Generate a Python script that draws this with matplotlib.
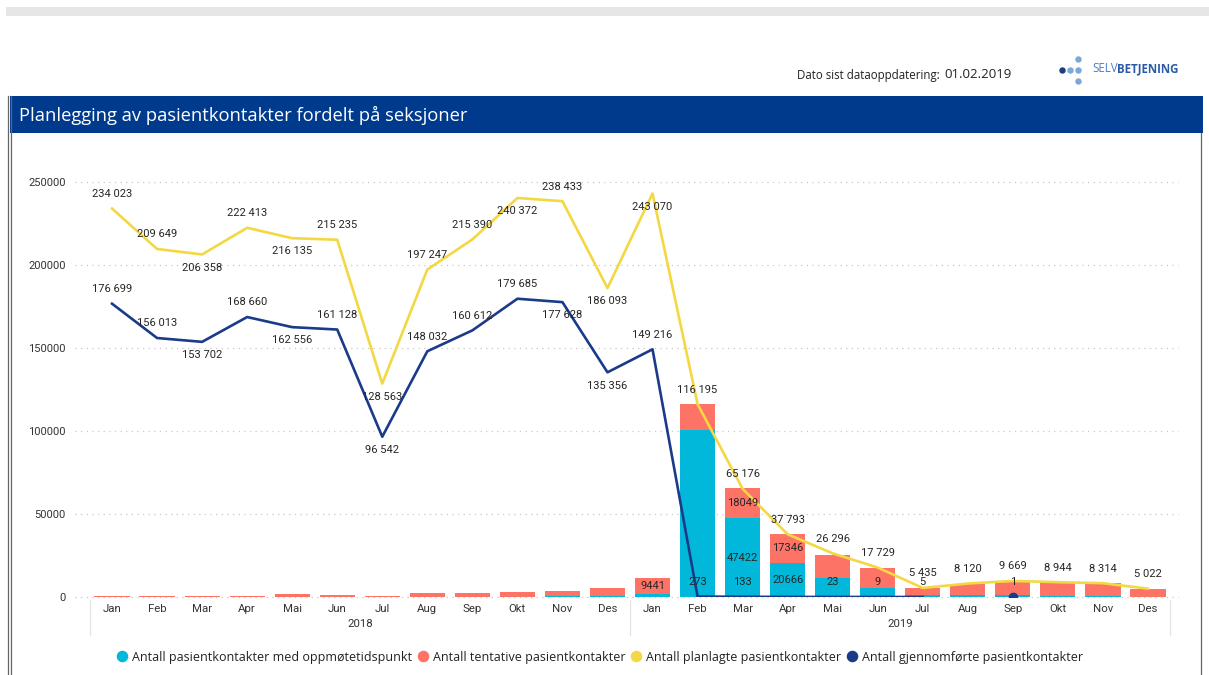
import numpy as np
import matplotlib
matplotlib.use("Agg")
import matplotlib.pyplot as plt
from matplotlib.lines import Line2D
from matplotlib.patches import Rectangle

# ---------------- data ----------------
months = ["Jan", "Feb", "Mar", "Apr", "Mai", "Jun", "Jul", "Aug", "Sep", "Okt", "Nov", "Des"]
years = ["2018", "2019"]

appointment = [0, 0, 0, 0, 0, 0, 0, 0, 0, 300, 600, 700,
               2000, 100500, 47422, 20666, 11400, 5500, 1200, 1000, 1000, 900, 800, 300]
tentative = [600, 600, 600, 600, 1600, 1500, 600, 2400, 2400, 3000, 3200, 4600,
             9441, 15700, 18049, 17346, 13900, 12000, 4200, 6800, 8000, 7600, 7500, 4800]
planned = [234023, 209649, 206358, 222413, 216135, 215235, 128563, 197247, 215390, 240372, 238433, 186093,
           243070, 116195, 65176, 37793, 26296, 17729, 5435, 8120, 9669, 8944, 8314, 5022]
completed = [176699, 156013, 153702, 168660, 162556, 161128, 96542, 148032, 160612, 179685, 177628, 135356,
             149216, 273, 133, 40, 23, 9, 5, np.nan, 1, np.nan, np.nan, np.nan]

series_names = ["Antall pasientkontakter med oppmøtetidspunkt",
                "Antall tentative pasientkontakter",
                "Antall planlagte pasientkontakter",
                "Antall gjennomførte pasientkontakter"]
yticks = [0, 50000, 100000, 150000, 200000, 250000]

title = "Planlegging av pasientkontakter fordelt på seksjoner"
update_label = "Dato sist dataoppdatering:"
update_date = "01.02.2019"

# ---------------- style ----------------
C_CYAN = "#01B8DA"
C_SALMON = "#FD7366"
C_YELLOW = "#F3D843"
C_NAVY = "#1B3A8A"
C_TITLE = "#003A8C"
TXT = "#333333"
NUM_FONT = ["Roboto", "DejaVu Sans"]
UI_FONT = ["Open Sans", "DejaVu Sans"]

W, H = 1209, 675
fig = plt.figure(figsize=(W / 100, H / 100), dpi=100)
fx = lambda x: x / W
fy = lambda y: 1 - y / H

# page decorations
fig.add_artist(Rectangle((fx(6), fy(16)), fx(1209) - fx(6), 9 / H, transform=fig.transFigure,
                         color="#E6E6E6", lw=0))
fig.add_artist(Rectangle((fx(10), fy(133)), fx(1203) - fx(10), 37 / H, transform=fig.transFigure,
                         color=C_TITLE, lw=0))
fig.text(fx(19), fy(115), title, color="white", fontsize=13.2, va="center", ha="left", family=UI_FONT)
for xb in (8, 11):
    fig.add_artist(Line2D([fx(xb), fx(xb)], [fy(96), 0], transform=fig.transFigure, color="#666666", lw=0.9))
fig.add_artist(Line2D([fx(1201), fx(1201)], [fy(133), 0], transform=fig.transFigure, color="#666666", lw=0.9))

fig.text(fx(797), fy(75), update_label, fontsize=8.3, color="#222222", va="center", ha="left", family=UI_FONT)
fig.text(fx(944), fy(75), update_date, fontsize=9.5, color="#222222", va="center", ha="left", family=UI_FONT)

# logo
for (lx, ly, c) in [(1062, 70, "#1D3D7A"), (1070, 70, "#7BA7D9"), (1078, 70, "#7BA7D9"),
                    (1078, 59, "#7BA7D9"), (1078, 81, "#7BA7D9")]:
    fig.add_artist(Line2D([fx(lx)], [fy(ly)], marker="o", markersize=3.6, color=c, lw=0,
                          transform=fig.transFigure))
fig.text(fx(1092), fy(69), "SELV", fontsize=8.3, color="#4A7CC4", va="center", ha="left", family=UI_FONT)
fig.text(fx(1117), fy(69), "BETJENING", fontsize=8.3, color="#2B5BA6", va="center", ha="left",
         fontweight="bold", family=UI_FONT)

# ---------------- chart ----------------
ax_l, ax_r, ax_t, ax_b = 89.5, 1170.5, 150, 597
ax = fig.add_axes([fx(ax_l), fy(ax_b), (ax_r - ax_l) / W, (ax_b - ax_t) / H])
ymax = (ax_b - ax_t) / 83.0 * 50000
ax.set_ylim(0, ymax)
ax.set_xlim(-0.5, 23.5)
for s in ax.spines.values():
    s.set_visible(False)

x = np.arange(len(planned))
gx0 = (75 - ax_l) / (ax_r - ax_l)
gx1 = (1178 - ax_l) / (ax_r - ax_l)
for yv in yticks:
    ax.axhline(yv, xmin=gx0, xmax=gx1, clip_on=False, color="#C8C8C8", lw=0.9,
               linestyle=(0, (1, 3.5)), zorder=0)

bw = 0.78
ax.bar(x, appointment, width=bw, color=C_CYAN, zorder=2)
ax.bar(x, tentative, width=bw, bottom=appointment, color=C_SALMON, zorder=2)
ax.plot(x, planned, color=C_YELLOW, lw=1.9, zorder=3)
comp = np.array(completed, dtype=float)
ax.plot(x, comp, color=C_NAVY, lw=1.9, zorder=4)
# isolated points (no neighbours) shown as markers
for i in range(len(comp)):
    if np.isnan(comp[i]):
        continue
    left = i > 0 and not np.isnan(comp[i - 1])
    right = i < len(comp) - 1 and not np.isnan(comp[i + 1])
    if not left and not right:
        ax.plot([x[i]], [comp[i]], marker="o", markersize=6, color=C_NAVY, zorder=4)

def fmt_space(v):
    return f"{int(round(v)):,}".replace(",", " ")

lab_kw = dict(fontsize=8, color="#252525", ha="center", va="center", family=NUM_FONT, zorder=6,
              textcoords="offset points", annotation_clip=False)

planned_pos = ["a", "a", "b", "a", "b", "a", "b", "a", "a", "b", "a", "b",
               "b", "a", "a", "a", "a", "a", "a", "a", "a", "a", "a", "a"]
for i, v in enumerate(planned):
    dy = 10.5 if planned_pos[i] == "a" else -9.5
    ax.annotate(fmt_space(v), (x[i], v), xytext=(0, dy), **lab_kw)

completed_pos = ["a", "a", "b", "a", "b", "a", "b", "a", "a", "a", "b", "b",
                 "a", "a", "a", None, "a", "a", "a", None, "a", None, None, None]
for i, v in enumerate(completed):
    if np.isnan(v) or completed_pos[i] is None:
        continue
    dy = 10.5 if completed_pos[i] == "a" else -9.5
    ax.annotate(fmt_space(v), (x[i], v), xytext=(0, dy), **lab_kw)

# segment labels inside bars
for i in (14, 15):
    ax.text(x[i], appointment[i] / 2, f"{appointment[i]}", fontsize=8, color="#252525",
            ha="center", va="center", family=NUM_FONT, zorder=6)
for i in (12, 14, 15):
    ax.text(x[i], appointment[i] + tentative[i] / 2, f"{tentative[i]}", fontsize=8, color="#252525",
            ha="center", va="center", family=NUM_FONT, zorder=6)

ax.set_yticks(yticks)
ax.set_yticklabels([str(v) for v in yticks], family=NUM_FONT, fontsize=8, color=TXT)
ax.set_xticks(x)
ax.set_xticklabels(months * 2, family=NUM_FONT, fontsize=8.2, color=TXT)
ax.tick_params(axis="y", length=0, pad=17)
ax.tick_params(axis="x", length=0, pad=5)

tr = ax.get_xaxis_transform()
for k, yr in enumerate(years):
    ax.text(5.5 + 12 * k, -(624 - ax_b) / (ax_b - ax_t), yr, transform=tr, ha="center", va="center",
            fontsize=8.2, color=TXT, family=NUM_FONT)
for xs in (-0.5, 11.5, 23.5):
    ax.plot([xs, xs], [-0.006, -0.085], transform=tr, clip_on=False, color="#E3E3E3", lw=0.9)

handles = [Line2D([], [], marker="o", linestyle="", markersize=7.3, color=c)
           for c in (C_CYAN, C_SALMON, C_YELLOW, C_NAVY)]
fig.legend(handles, series_names, loc="center", bbox_to_anchor=(fx(600), fy(657)), ncol=4, frameon=False,
           handletextpad=0.45, columnspacing=0.4, handlelength=0.8, borderpad=0, borderaxespad=0,
           prop={"family": UI_FONT, "size": 9}, labelcolor="#222222")

fig.savefig("out.png", dpi=100)
